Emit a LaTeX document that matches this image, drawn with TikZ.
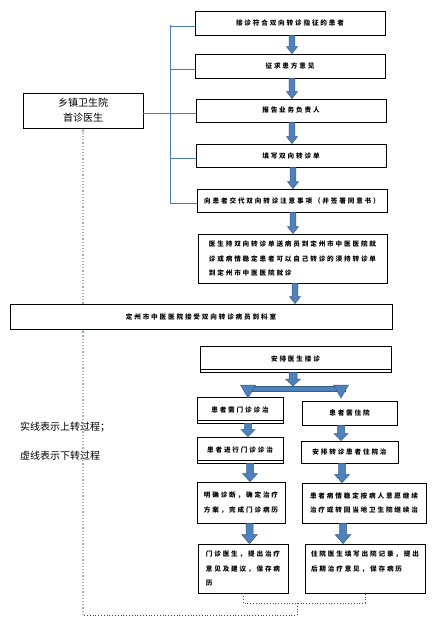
\documentclass[tikz,border=0pt]{standalone}
\usepackage{fontspec}
\newfontfamily\cjk[LetterSpace=28]{Noto Sans CJK SC}
\newfontfamily\cjkn{Noto Sans CJK SC}
\usetikzlibrary{calc,arrows.meta}
\definecolor{arfill}{HTML}{4F81BD}
\definecolor{arline}{HTML}{385D8A}
\definecolor{brline}{HTML}{4A7EBB}
\definecolor{dotlight}{HTML}{9DAECB}
\definecolor{dotdark}{HTML}{2E4A6E}
\tikzset{
 box/.style={draw=black, line width=0.8pt, rectangle, inner sep=0pt, font=\cjk\bfseries\fontsize{6.6}{14.5}\selectfont, align=center},
 bigbox/.style={draw=black, line width=0.8pt, rectangle, inner sep=0pt, font=\cjkn\fontsize{10}{15}\selectfont, align=center},
 blockarrow/.style={fill=arfill, draw=arline, line width=0.5pt, line join=miter},
 bracket/.style={draw=brline, line width=0.9pt},
 dotup/.style={draw=dotlight, line width=1.2pt, dotted, -{Stealth[length=4pt,width=3.5pt]}},
 dotdn/.style={draw=dotdark, line width=0.8pt, dotted},
 legend/.style={font=\cjkn\fontsize{10}{15}\selectfont, inner sep=0pt, anchor=west},
 extraline/.style={draw=black, line width=0.8pt},
}
% block arrow: #1 x, #2 start coord, #3 end coord, #4 shaft half, #5 head half, #6 head length
\newcommand\barrow[6]{%
 \draw[blockarrow] let \p1=(#2), \p2=(#3) in
  ({(#1-#4)*1pt},\y1) -- ({(#1+#4)*1pt},\y1) -- ({(#1+#4)*1pt},{\y2+#6pt}) --
  ({(#1+#5)*1pt},{\y2+#6pt}) -- ({#1*1pt},\y2) -- ({(#1-#5)*1pt},{\y2+#6pt}) --
  ({(#1-#4)*1pt},{\y2+#6pt}) -- cycle;}
\begin{document}
\begin{tikzpicture}[x=1pt,y=-1pt]
\fill[white] (0,0) rectangle (436,626);
\useasboundingbox (0,0) rectangle (436,626);

% upper column
\node[box, minimum width=190pt, minimum height=24pt] (b1) at (290,23) {接诊符合双向转诊指征的患者};
\node[box, minimum width=190pt, minimum height=24pt] (b2) at (290,66) {征求患方意见};
\node[box, minimum width=190pt, minimum height=23pt] (b3) at (291,110.5) {报告业务负责人};
\node[box, minimum width=190pt, minimum height=23pt] (b4) at (291,155.5) {填写双向转诊单};
\node[box, minimum width=190pt, minimum height=23pt] (b5) at (292,200.5) {向患者交代双向转诊注意事项（并签署同意书）};
\node[box, minimum width=189pt, minimum height=49pt, align=left] (b6) at (292.5,258.5) {医生持双向转诊单送病员到定州市中医医院就\\诊或病情稳定患者可以自己转诊的须持转诊单\\到定州市中医医院就诊};
\node[box, minimum width=382pt, minimum height=25pt] (b7) at (201,316.5) {定州市中医医院接受双向转诊病员到科室};
\node[box, minimum width=191pt, minimum height=26pt] (b8) at (295.5,359) {安排医生接诊};
\draw[extraline] ([yshift=3pt]b8.south west) -- ([yshift=3pt]b8.south east);

% left box
\node[bigbox, minimum width=120pt, minimum height=35pt] (lz) at (83,110.5) {乡镇卫生院\\首诊医生};

% lower columns
\node[box, minimum width=86pt, minimum height=26pt] (L1) at (240,410) {患者需门诊诊治};
\draw[extraline] ([yshift=3pt]L1.south west) -- ([yshift=3pt]L1.south east);
\node[box, minimum width=86pt, minimum height=26pt] (L2) at (240,450) {患者进行门诊诊治};
\draw[extraline] ([yshift=3pt]L2.south west) -- ([yshift=3pt]L2.south east);
\node[box, minimum width=88pt, minimum height=41pt, align=left] (L3) at (241,502.5) {明确诊断，确定治疗\\方案，完成门诊病历};
\node[box, minimum width=90pt, minimum height=49pt, align=left] (L4) at (243,568.5) {门诊医生，提出治疗\\意见及建议，保存病\\历};

\node[box, minimum width=95pt, minimum height=24pt] (R1) at (349.5,413) {患者需住院};
\node[box, minimum width=97pt, minimum height=22pt] (R2) at (349.5,452) {安排转诊患者住院治};
\node[box, minimum width=124pt, minimum height=40pt, align=left] (R3) at (364,503) {患者病情稳定按病人意愿继续\\治疗或转回当地卫生院继续治};
\node[box, minimum width=120pt, minimum height=49pt, align=left] (R4) at (365,568.5) {住院医生填写出院记录，提出\\后期治疗意见，保存病历\\\mbox{}};

% legend
\node[legend] (lg1) at (20,427) {实线表示上转过程；};
\node[legend] (lg2) at (20,456) {虚线表示下转过程};

% bracket (solid blue)
\coordinate (brt) at (170,25);
\coordinate (brb) at (170,203);
\draw[bracket] (brt) -- (brb);
\draw[bracket] ($(brt|-b1.west)+(0,3)$) -- ($(b1.west)+(0,3)$);
\draw[bracket] ($(brt|-b2.west)+(0,3)$) -- ($(b2.west)+(0,3)$);
\draw[bracket] ($(lz.east)+(0,2.5)$) -- ($(b3.west)+(0,2.5)$);
\draw[bracket] ($(brt|-b4.west)+(0,2.5)$) -- ($(b4.west)+(0,2.5)$);
\draw[bracket] ($(brt|-b5.west)+(0,2.5)$) -- ($(b5.west)+(0,2.5)$);

% block arrows upper column
\barrow{292}{b1.south}{b2.north}{2.8}{5.5}{7}
\barrow{292}{b2.south}{b3.north}{2.8}{5.5}{7}
\barrow{292}{b3.south}{b4.north}{2.8}{5.5}{7}
\barrow{293}{b4.south}{b5.north}{2.8}{5.5}{7}
\barrow{293}{b5.south}{b6.north}{2.8}{5.5}{7}
\barrow{295}{b6.south}{b7.north}{2.8}{5.5}{7}

% split arrow
\coordinate (sp) at (293,386);
\draw[blockarrow] (244,386) rectangle (345,391);
\draw[blockarrow] (240.5,385) -- (255.5,385) -- (248,398) -- cycle;
\draw[blockarrow] (333.5,385) -- (348.5,385) -- (341,398) -- cycle;
\barrow{293}{b8.south}{sp}{4}{7.5}{7}

% block arrows lower columns
\barrow{248}{L1.south}{L2.north}{3.5}{7}{7}
\barrow{250}{L2.south}{L3.north}{3.5}{7.5}{8}
\barrow{249.5}{L3.south}{L4.north}{3.5}{7.8}{9}
\barrow{341}{R1.south}{R2.north}{3.5}{7}{7}
\barrow{342}{R2.south}{R3.north}{3.5}{7.5}{8}
\barrow{343}{R3.south}{R4.north}{3.5}{7.8}{9}

% dotted (downward referral) lines
\coordinate (dl) at (83,615);
\coordinate (dm) at (297,615);
\coordinate (dj) at (297,603);
\draw[dotdn] (L4.south) -- (L4.south |- dj) -- (R4.south |- dj) -- (R4.south);
\draw[dotdn] (dj) -- (dm) -- (dl);
\draw[dotup] (dl) -- (b7.south -| dl);
\draw[dotup] (b7.north -| dl) -- (lz.south);
\end{tikzpicture}
\end{document}
